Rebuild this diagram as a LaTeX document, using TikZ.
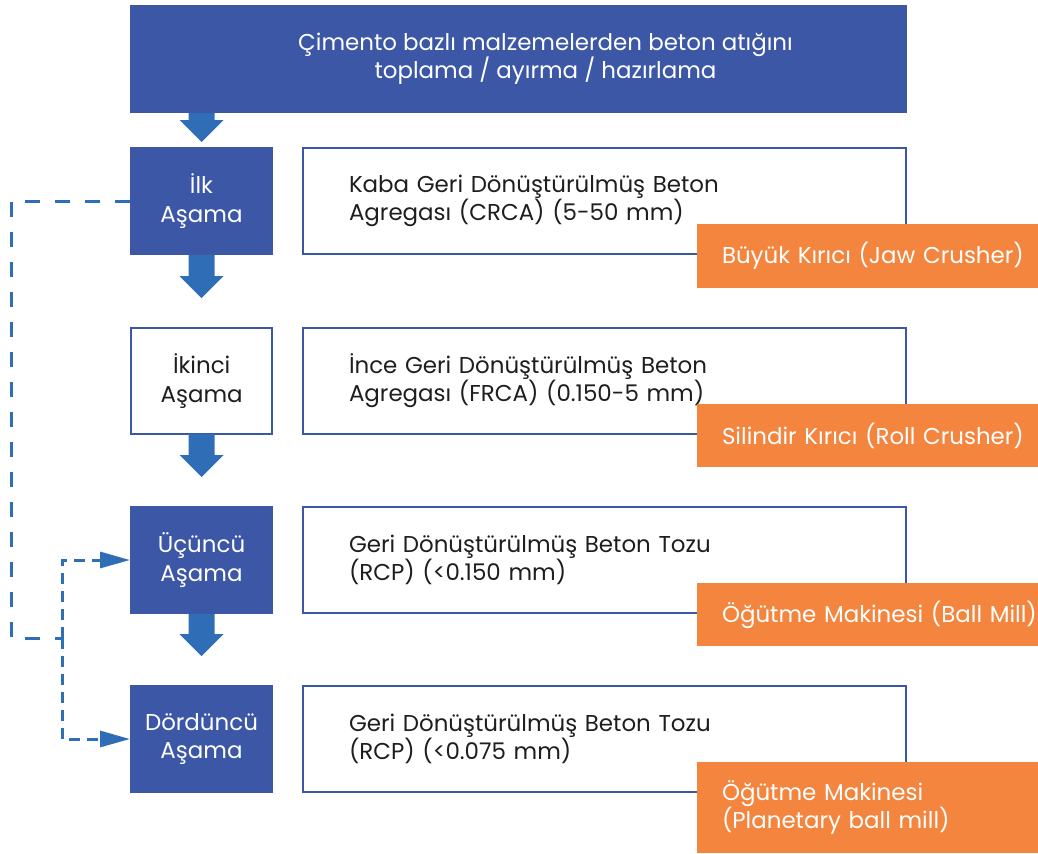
\documentclass[tikz,border=0pt]{standalone}
\usepackage{fontspec}
\setmainfont{Poppins}
\usetikzlibrary{calc,arrows.meta}
\definecolor{boxblue}{RGB}{61,87,167}
\definecolor{arrowblue}{RGB}{47,110,182}
\definecolor{tagorange}{RGB}{244,133,63}
\definecolor{txt}{RGB}{30,30,30}
\tikzset{
  base/.style={anchor=north west, outer sep=0pt, inner sep=0pt, font=\fontsize{17.2}{21.2}\selectfont},
  filledbox/.style={base, fill=boxblue, text=white, align=center},
  stagefill/.style={filledbox, minimum width=107.25pt, minimum height=81pt},
  stageopen/.style={base, draw=boxblue, line width=1.5pt, fill=white, text=txt, align=center, minimum width=106pt, minimum height=79.5pt},
  descbox/.style={base, draw=boxblue, line width=1.5pt, fill=white, text=txt, align=left, minimum width=452pt, minimum height=79.5pt, text width=452pt},
  tagbox/.style={base, fill=tagorange, text=white, align=left, minimum width=255.75pt, text width=255.75pt},
  dashlong/.style={draw=arrowblue, line width=2.25pt, dash pattern=on 11.25pt off 11.25pt},
  dashshort/.style={draw=arrowblue, line width=2.25pt, dash pattern=on 8pt off 5.5pt,
    -{Triangle[length=22.5pt, width=12pt]}},
}
% block arrow hanging below a point: shaft then head, total length #2 (px)
\newcommand{\downarrowblock}[2]{%
  \fill[arrowblue] ($#1+(-13,0)$) -- ++(0,#2-22) -- ++(-9,0)
    -- ($#1+(0,#2)$) -- ($#1+(22,#2-22)$) -- ++(-9,0)
    -- ($#1+(13,0)$) -- cycle;}
\begin{document}
\begin{tikzpicture}[x=0.75pt,y=-0.75pt]
\useasboundingbox (0,0) rectangle (1038,853);

% header (text set slightly right of centre)
\node[filledbox, minimum width=582.75pt, minimum height=81pt] (top) at (130,5)
  {\hspace*{40.5pt}Çimento bazlı malzemelerden beton atığını\\\hspace*{40.5pt}toplama / ayırma / hazırlama};

% stages
\node[stagefill] (s1) at (130,147) {İlk\\Aşama};
\node[stageopen] (s2) at (131,328) {İkinci\\Aşama};
\node[stagefill] (s3) at (130,506) {Üçüncü\\Aşama};
\node[stagefill] (s4) at (130,685) {Dördüncü\\Aşama};

% products
\node[descbox] (d1) at (303,148) {\hspace*{34.5pt}\parbox{400pt}{Kaba Geri Dönüştürülmüş Beton\\Agregası (CRCA) (5-50 mm)}};
\node[descbox] (d2) at (303,328) {\hspace*{34.5pt}\parbox{400pt}{İnce Geri Dönüştürülmüş Beton\\Agregası (FRCA) (0.150-5 mm)}};
\node[descbox] (d3) at (303,507) {\hspace*{34.5pt}\parbox{400pt}{Geri Dönüştürülmüş Beton Tozu\\(RCP) (<0.150 mm)}};
\node[descbox] (d4) at (303,686) {\hspace*{34.5pt}\parbox{400pt}{Geri Dönüştürülmüş Beton Tozu\\(RCP) (<0.075 mm)}};

% machines
\node[tagbox, minimum height=48pt] (m1) at (697,224) {\hspace*{18.75pt}Büyük Kırıcı (Jaw Crusher)};
\node[tagbox, minimum height=47.25pt] (m2) at (697,404) {\hspace*{18.75pt}Silindir Kırıcı (Roll Crusher)};
\node[tagbox, minimum height=47.25pt] (m3) at (697,583) {\hspace*{18.75pt}Öğütme Makinesi (Ball Mill)};
\node[tagbox, minimum height=68.25pt] (m4) at (697,762) {\hspace*{18.75pt}\parbox{230pt}{Öğütme Makinesi\\(Planetary ball mill)}};

% flow arrows
\downarrowblock{(top.south -| s1.south)}{29}
\downarrowblock{(s1.south)}{43}
\downarrowblock{(s2.south)}{43}
\downarrowblock{(s3.south)}{42}

% bypass routes
\coordinate (loopL) at (11,638);
\coordinate (jn) at (62,638);
\draw[dashlong] (s1.west) -| (loopL) -- (jn);
\draw[dashshort] (jn) |- (s3.west);
\draw[dashshort] (jn) |- (s4.west);
\end{tikzpicture}
\end{document}
